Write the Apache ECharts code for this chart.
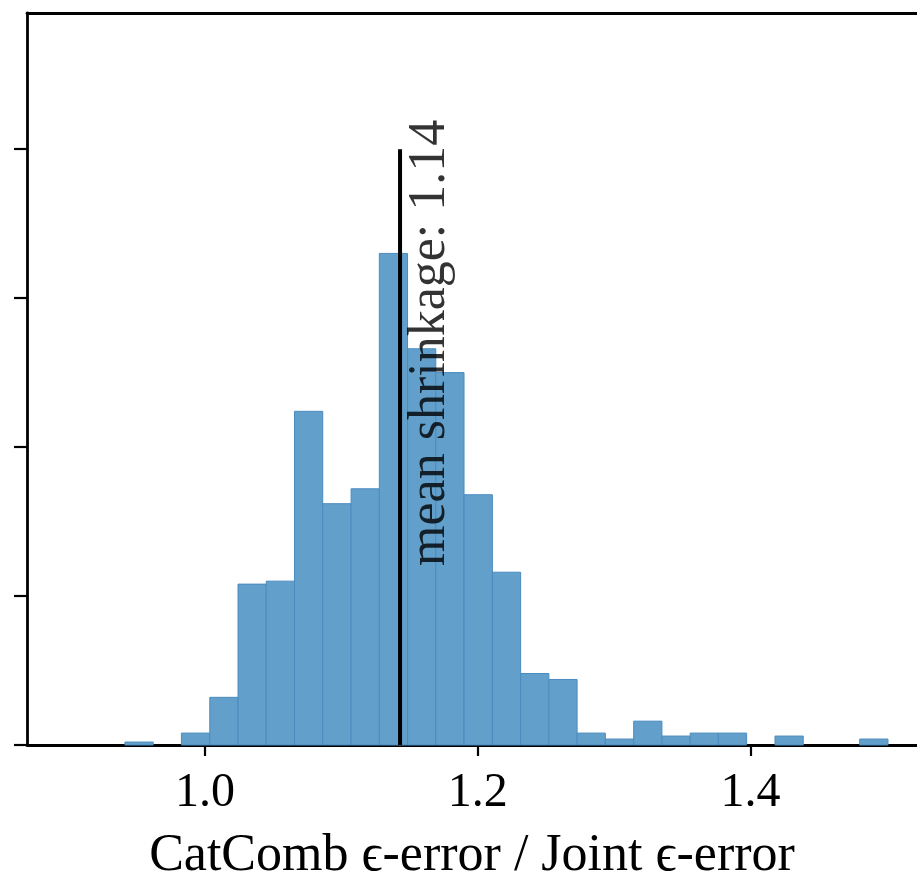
<!DOCTYPE html>
<html>
<head>
<meta charset="utf-8">
<script src="https://cdn.jsdelivr.net/npm/echarts@6/dist/echarts.min.js"></script>
<style>
  html, body {margin: 0; padding: 0; background: #fff;}
  #main {width: 917px; height: 881px;}
</style>
</head>
<body>
<div id="main"></div>
<script>
// bin edges (27 bins) and counts
const binEdges = [
  0.9413, 0.962, 0.9827, 1.0035, 1.0242, 1.0449, 1.0656, 1.0863, 1.1071,
  1.1278, 1.1485, 1.1692, 1.1899, 1.2107, 1.2314, 1.2521, 1.2728, 1.2935,
  1.3143, 1.335, 1.3557, 1.3764, 1.3971, 1.4179, 1.4386, 1.4593, 1.48, 1.5007,
]
const counts = [1, 0, 4, 16, 54, 55, 112, 81, 86, 165, 133, 125, 84, 58, 24, 22, 4, 2, 8, 3, 4, 4, 0, 3, 0, 0, 2]
const xTicks = [1.0, 1.2, 1.4]
const yTicks = [0, 50, 100, 150, 200]
const meanValue = 1.143
const meanTop = 200
const meanText = 'mean shrinkage: 1.14'
const xTitle = 'CatComb \u03f5-error / Joint \u03f5-error'

const serif = '"Liberation Serif", "DejaVu Serif", serif'
const xMin = 0.8695
const xMax = 1.522
const yMax = 245.7

const bins = counts.map((c, i) => [binEdges[i], binEdges[i + 1], c])

const chart = echarts.init(document.getElementById('main'), null, {renderer: 'canvas'})

const option = {
  animation: false,
  grid: {left: 27, top: 13, right: 0, bottom: 136, containLabel: false, outerBoundsMode: 'none'},
  xAxis: [
    {
      type: 'value',
      min: xMin,
      max: xMax,
      splitLine: {show: false},
      axisLine: {show: true, lineStyle: {color: '#000', width: 2.8}},
      axisTick: {show: true, length: 11, customValues: xTicks, lineStyle: {color: '#000', width: 2.2}},
      axisLabel: {
        customValues: xTicks,
        formatter: v => v.toFixed(1),
        color: '#000',
        fontFamily: serif,
        fontSize: 48,
        margin: 24,
      },
      name: xTitle,
      nameLocation: 'middle',
      nameGap: 85,
      nameTextStyle: {color: '#000', fontFamily: serif, fontSize: 52},
    },
    {
      // top spine
      type: 'value',
      position: 'top',
      min: xMin,
      max: xMax,
      splitLine: {show: false},
      axisLine: {show: true, lineStyle: {color: '#000', width: 2.8}},
      axisTick: {show: false},
      axisLabel: {show: false},
    },
  ],
  yAxis: {
    type: 'value',
    min: 0,
    max: yMax,
    splitLine: {show: false},
    axisLine: {show: true, lineStyle: {color: '#000', width: 2.8}},
    axisTick: {show: true, length: 13, customValues: yTicks, lineStyle: {color: '#000', width: 2.2}},
    axisLabel: {show: false},
  },
  series: [
    {
      type: 'custom',
      name: 'hist',
      data: bins,
      encode: {x: [0, 1], y: 2},
      renderItem: (params, api) => {
        if (api.value(2) <= 0) return
        const p0 = api.coord([api.value(0), api.value(2)])
        const p1 = api.coord([api.value(1), 0])
        return {
          type: 'rect',
          shape: {x: p0[0], y: p0[1], width: p1[0] - p0[0], height: p1[1] - p0[1]},
          style: {fill: '#629fca', stroke: '#4b8cc0', lineWidth: 1},
        }
      },
      z: 2,
    },
    {
      // mean line
      type: 'line',
      data: [[meanValue, 0], [meanValue, meanTop]],
      symbol: 'none',
      lineStyle: {color: '#000', width: 4},
      z: 3,
    },
    {
      // mean label
      type: 'scatter',
      data: [[1.165, 135]],
      symbolSize: 0,
      label: {
        show: true,
        position: 'inside',
        rotate: 90,
        formatter: meanText,
        color: '#000',
        fontFamily: serif,
        fontSize: 52,
        align: 'center',
        verticalAlign: 'middle',
      },
      z: 4,
    },
  ],
}

chart.setOption(option)
</script>
</body>
</html>
